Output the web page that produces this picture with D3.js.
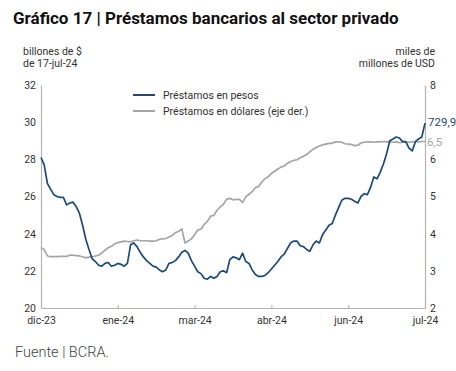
<!DOCTYPE html>
<html>
<head>
<meta charset="utf-8">
<script src="https://cdn.jsdelivr.net/npm/d3@7"></script>
<style>
  body { margin: 0; background: #fff; }
  svg { font-family: Roboto, "Noto Sans", sans-serif; }
</style>
</head>
<body>
<svg id="chart" width="456" height="371"></svg>
<script>
// data (one point every ~3 px, business days)
const tickLabels = ['dic-23', 'ene-24', 'mar-24', 'abr-24', 'jun-24', 'jul-24'];

// préstamos en pesos, billones de $ (left axis)
const pesos = [
  28.1, 27.7, 26.7, 26.4, 26.1, 26.0, 25.95, 25.95, 25.55, 25.65,
  25.7, 25.45, 25.1, 24.45, 23.7, 23.15, 22.65, 22.5, 22.3, 22.25,
  22.4, 22.45, 22.25, 22.3, 22.4, 22.35, 22.25, 22.4, 23.4, 23.5,
  23.3, 23.0, 22.75, 22.55, 22.4, 22.25, 22.2, 22.05, 21.95, 22.05,
  22.4, 22.45, 22.55, 22.75, 23.0, 23.1, 22.95, 22.55, 22.25, 21.95,
  21.85, 21.6, 21.55, 21.7, 21.6, 21.7, 21.95, 22.0, 21.9, 22.6,
  22.75, 22.7, 22.6, 22.95, 22.5, 22.4, 22.05, 21.8, 21.7, 21.7,
  21.75, 21.9, 22.1, 22.3, 22.5, 22.75, 22.9, 23.2, 23.5, 23.6,
  23.6, 23.35, 23.3, 23.15, 23.05, 23.4, 23.6, 23.5, 23.95, 24.2,
  24.45, 24.55, 25.0, 25.4, 25.8, 25.9, 25.9, 25.85, 25.75, 25.65,
  26.0, 26.15, 26.1, 26.5, 27.05, 26.95, 27.3, 27.75, 28.3, 29.0,
  29.1, 29.2, 29.15, 28.95, 28.95, 28.6, 28.45, 28.95, 29.1, 29.2,
  29.95
];

// préstamos en dólares, miles de millones de USD (right axis)
const dolares = [
  3.63, 3.57, 3.40, 3.38, 3.38, 3.38, 3.39, 3.39, 3.39, 3.42,
  3.42, 3.41, 3.40, 3.38, 3.35, 3.37, 3.38, 3.40, 3.42, 3.48,
  3.56, 3.62, 3.66, 3.72, 3.76, 3.78, 3.80, 3.79, 3.78, 3.81,
  3.83, 3.81, 3.81, 3.81, 3.80, 3.80, 3.81, 3.85, 3.86, 3.87,
  3.91, 3.95, 4.03, 4.06, 4.13, 3.75, 3.80, 3.86, 3.97, 4.10,
  4.12, 4.25, 4.33, 4.47, 4.49, 4.63, 4.72, 4.79, 4.93, 4.95,
  4.91, 4.92, 4.92, 4.84, 4.99, 5.06, 5.13, 5.24, 5.27, 5.39,
  5.48, 5.53, 5.62, 5.68, 5.74, 5.79, 5.82, 5.89, 5.94, 5.97,
  5.99, 6.04, 6.08, 6.13, 6.20, 6.27, 6.32, 6.36, 6.39, 6.41,
  6.43, 6.43, 6.47, 6.47, 6.46, 6.42, 6.41, 6.40, 6.37, 6.38,
  6.44, 6.46, 6.47, 6.47, 6.46, 6.47, 6.47, 6.48, 6.47, 6.47,
  6.46, 6.47, 6.45, 6.46, 6.47, 6.46, 6.47, 6.48, 6.47, 6.48,
  6.48
];

const leftTicks = [20, 22, 24, 26, 28, 30, 32];
// the 7 is hidden behind the end label in the reference
const rightTicks = [2, 3, 4, 5, 6, 8];

const blue = '#1d4a7a';
const grey = '#a5a5a5';
const axisColor = '#b3b3b3';
const textColor = '#333';

const svg = d3.select('#chart');
const margin = { left: 41, right: 31, top: 85, bottom: 63 };
const width = 456, height = 371;

const x = d3.scaleLinear()
  .domain([0, pesos.length - 1])
  .range([margin.left, width - margin.right]);
const yL = d3.scaleLinear().domain([20, 32]).range([height - margin.bottom, margin.top]);
const yR = d3.scaleLinear().domain([2, 8]).range([height - margin.bottom, margin.top]);

// title
svg.append('text')
  .attr('x', 13).attr('y', 24)
  .attr('font-size', 17).attr('font-weight', 700).attr('fill', '#111')
  .text('Gráfico 17 | Préstamos bancarios al sector privado');

// axis titles
const lt = svg.append('text').attr('font-size', 10.5).attr('fill', textColor);
lt.append('tspan').attr('x', 23).attr('y', 55).text('billones de $');
lt.append('tspan').attr('x', 23).attr('y', 67).text('de 17-jul-24');

const rt = svg.append('text').attr('font-size', 10.5).attr('fill', textColor).attr('text-anchor', 'end');
rt.append('tspan').attr('x', 435).attr('y', 55).text('miles de');
rt.append('tspan').attr('x', 435).attr('y', 67).text('millones de USD');

// axes
const xTickIdx = tickLabels.map((d, i) => i * (pesos.length - 1) / (tickLabels.length - 1));

const xAxis = svg.append('g')
  .attr('transform', `translate(0,${height - margin.bottom})`)
  .call(d3.axisBottom(x).tickValues(xTickIdx).tickSizeInner(-3).tickSizeOuter(0)
    .tickFormat((d, i) => tickLabels[i]));
xAxis.selectAll('text').attr('y', 9).attr('font-size', 10.5).attr('fill', textColor).attr('font-family', 'Roboto');

const leftAxis = svg.append('g')
  .attr('transform', `translate(${margin.left},0)`)
  .call(d3.axisLeft(yL).tickValues(leftTicks).tickSize(0).tickPadding(5));
leftAxis.selectAll('text').attr('font-size', 10.5).attr('fill', textColor).attr('font-family', 'Roboto');

const rightAxis = svg.append('g')
  .attr('transform', `translate(${width - margin.right},0)`)
  .call(d3.axisRight(yR).tickValues(rightTicks).tickFormat(d3.format('d')).tickSize(0).tickPadding(5));
rightAxis.selectAll('text').attr('font-size', 10.5).attr('fill', textColor).attr('font-family', 'Roboto');

svg.selectAll('.domain').attr('stroke', axisColor).attr('stroke-width', 1.2);
xAxis.selectAll('.tick line').attr('stroke', axisColor);

// lines
const lineL = d3.line().x((d, i) => x(i)).y(d => yL(d));
const lineR = d3.line().x((d, i) => x(i)).y(d => yR(d));

svg.append('path').datum(dolares)
  .attr('fill', 'none').attr('stroke', grey).attr('stroke-width', 1.7)
  .attr('stroke-linejoin', 'round').attr('d', lineR);

svg.append('path').datum(pesos)
  .attr('fill', 'none').attr('stroke', blue).attr('stroke-width', 1.7)
  .attr('stroke-linejoin', 'round').attr('d', lineL);

// end labels (as printed in the reference)
const last = pesos.length - 1;
svg.append('text')
  .attr('x', x(last) + 3).attr('y', yL(pesos[last]) + 3)
  .attr('font-size', 11.5).attr('fill', blue).text('729,9');
svg.append('text')
  .attr('x', x(last) + 2).attr('y', yR(dolares[last]) + 5)
  .attr('font-size', 11.5).attr('fill', grey).text('6,5');

// legend
const legend = [
  { label: 'Préstamos en pesos', color: blue },
  { label: 'Préstamos en dólares (eje der.)', color: grey }
];
const lg = svg.append('g').attr('transform', 'translate(133,95)');
legend.forEach((d, i) => {
  lg.append('line').attr('x1', 0).attr('x2', 22).attr('y1', i * 16).attr('y2', i * 16)
    .attr('stroke', d.color).attr('stroke-width', 2);
  lg.append('text').attr('x', 30).attr('y', i * 16 + 4)
    .attr('font-size', 10.5).attr('fill', textColor).text(d.label);
});

// source
svg.append('text')
  .attr('x', 15).attr('y', 357)
  .attr('font-size', 14.5).attr('font-weight', 300).attr('fill', '#444')
  .text('Fuente | BCRA.');
</script>
</body>
</html>
